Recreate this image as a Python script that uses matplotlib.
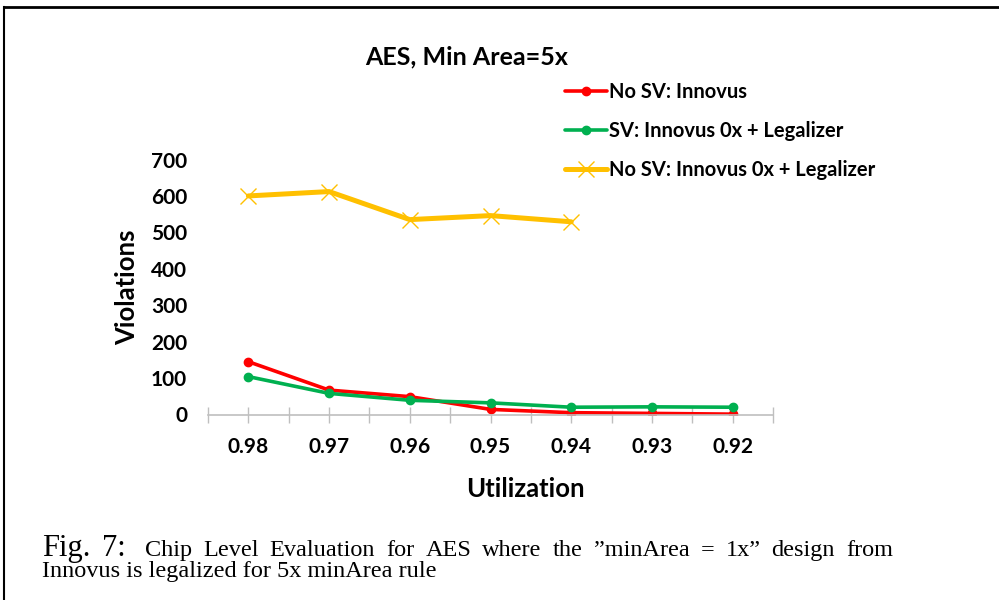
import matplotlib.pyplot as plt
import numpy as np

# 数据
utilization = ['0.98', '0.97', '0.96', '0.95', '0.94', '0.93', '0.92']
no_sv_innovus = [145, 67, 49, 14, 5, 3, 1]
sv_legalizer = [104, 58, 39, 32, 20, 21, 20]
no_sv_legalizer = [600, 612, 535, 546, 529]

series_labels = ['No SV: Innovus', 'SV: Innovus 0x + Legalizer', 'No SV: Innovus 0x + Legalizer']
y_ticks = [0, 100, 200, 300, 400, 500, 600, 700]

caption_line1 = 'Chip Level Evaluation for AES where the \u201dminArea = 1x\u201d design from'
caption_line2 = 'Innovus is legalized for 5x minArea rule'

plt.rcParams.update({
    'font.family': 'Lato',
    'font.weight': 'bold',
})

fig = plt.figure(figsize=(9.99, 6.0), dpi=100)
ax = fig.add_axes([208 / 999, 1 - 414.5 / 600, 565 / 999, 255 / 600])

x = np.arange(len(utilization))
l1, = ax.plot(x, no_sv_innovus, color='#FF0000', linewidth=2.6, marker='o', markersize=6,
              solid_capstyle='round', label=series_labels[0])
l2, = ax.plot(x, sv_legalizer, color='#00B050', linewidth=2.6, marker='o', markersize=6,
              solid_capstyle='round', label=series_labels[1])
l3, = ax.plot(x[:len(no_sv_legalizer)], no_sv_legalizer, color='#FFC000', linewidth=3.6,
              marker='x', markersize=11, markeredgewidth=1.0, markeredgecolor='#FFC000',
              solid_capstyle='round', label=series_labels[2])

ax.set_xlim(-0.5, len(utilization) - 0.5)
ax.set_ylim(0, 700)
ax.set_yticks(y_ticks)
ax.set_yticklabels([str(v) for v in y_ticks], fontsize=15)
ax.set_xticks(x)
ax.set_xticklabels(utilization, fontsize=15)
ax.set_xticks(np.arange(-0.5, len(utilization), 1.0), minor=True)

# Excel 风格坐标轴
for side in ['top', 'right', 'left']:
    ax.spines[side].set_visible(False)
ax.spines['bottom'].set_color('#BFBFBF')
ax.spines['bottom'].set_linewidth(1.2)
ax.tick_params(axis='y', length=0, pad=15)
ax.tick_params(axis='x', which='both', direction='inout', length=12, width=1.0,
               color='#BFBFBF', pad=10)
ax.patch.set_alpha(0)

fig.text(467 / 999, 1 - 57 / 600, 'AES, Min Area=5x', ha='center', va='center',
         fontsize=18, fontweight='bold')
fig.text(127 / 999, 1 - 287 / 600, 'Violations', ha='center', va='center',
         rotation=90, fontsize=18.5, fontweight='bold')
fig.text(525 / 999, 1 - 489 / 600, 'Utilization', ha='center', va='center',
         fontsize=18.5, fontweight='bold')

ax.legend(handles=[l1, l2, l3], loc='upper left', bbox_to_anchor=(565 / 999, 1 - 82 / 600),
          bbox_transform=fig.transFigure, frameon=False, fontsize=14.5,
          handlelength=2.1, handletextpad=0.1, labelspacing=0.95, borderpad=0,
          borderaxespad=0)

# 图注 (第一行两端对齐)
serif = 'Liberation Serif'
cap_fs = 17.5
base1, base2 = 556, 577
fig.text(42 / 999, 1 - base1 / 600, 'Fig.', fontsize=22, family=serif,
         fontweight='normal', va='baseline')
fig.text(102 / 999, 1 - base1 / 600, '7:', fontsize=22, family=serif,
         fontweight='normal', va='baseline')

renderer = fig.canvas.get_renderer()
words = caption_line1.split(' ')
word_texts = [fig.text(0, 0, w, fontsize=cap_fs, family=serif, fontweight='normal',
                       va='baseline') for w in words]
widths = [t.get_window_extent(renderer).width for t in word_texts]
left, right = 145, 893
gap = (right - left - sum(widths)) / (len(words) - 1)
xpos = left
for t, w in zip(word_texts, widths):
    t.set_position((xpos / 999, 1 - base1 / 600))
    xpos += w + gap

fig.text(42 / 999, 1 - base2 / 600, caption_line2, fontsize=cap_fs, family=serif,
         fontweight='normal', va='baseline')

# 外框
fig.add_artist(plt.Line2D([4 / 999, 1], [1 - 7 / 600, 1 - 7 / 600], color='black',
                          linewidth=2, transform=fig.transFigure))
fig.add_artist(plt.Line2D([4 / 999, 4 / 999], [0, 1 - 7 / 600], color='black',
                          linewidth=1.5, transform=fig.transFigure))

fig.savefig('out.png', dpi=100)
